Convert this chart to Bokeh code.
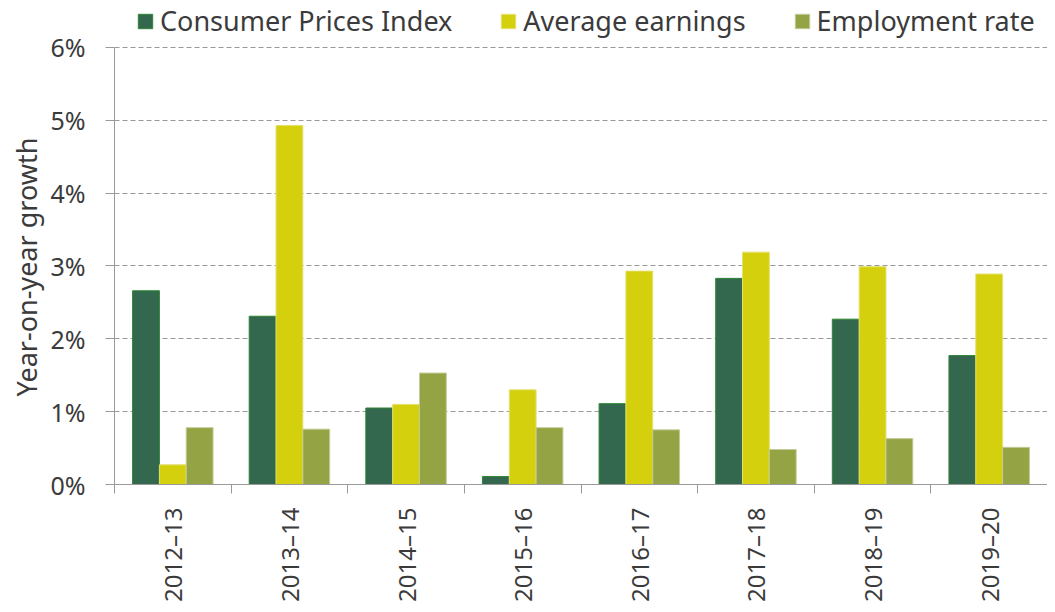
import numpy as np
from bokeh.plotting import figure
from bokeh.models import (ColumnDataSource, Range1d, FixedTicker, PrintfTickFormatter,
                          Legend, LegendItem, Title)
from bokeh.transform import dodge
from bokeh.embed import file_html
from bokeh.resources import INLINE

categories = ["2012–13", "2013–14", "2014–15", "2015–16", "2016–17", "2017–18", "2018–19", "2019–20"]
cpi = [2.66, 2.31, 1.05, 0.11, 1.11, 2.83, 2.27, 1.77]
earnings = [0.27, 4.93, 1.10, 1.30, 2.93, 3.19, 2.99, 2.89]
employment = [0.78, 0.76, 1.53, 0.78, 0.75, 0.48, 0.63, 0.51]
series_names = ["Consumer Prices Index", "Average earnings", "Employment rate"]
y_ticks = [0, 1, 2, 3, 4, 5, 6]
y_title = "Year-on-year growth"

FONT = "Noto Sans"
TEXT = "#3b3b3b"
AXIS = "#9a9a9a"

n = len(categories)
centers = np.arange(n) + 0.5
source = ColumnDataSource(dict(x=centers, cpi=cpi, earnings=earnings, employment=employment))

p = figure(width=1047, height=604, x_range=Range1d(0, n), y_range=Range1d(0, 6.645),
           output_backend="svg", toolbar_location=None,
           min_border_left=114, min_border_right=0, min_border_top=0, min_border_bottom=120)
p.outline_line_color = None
p.background_fill_color = "white"
p.border_fill_color = "white"

bw = 0.23
r1 = p.vbar(x=dodge("x", -bw), top="cpi", width=bw, source=source,
            fill_color="#33684f", line_color="#2e8633", line_width=1)
r2 = p.vbar(x=dodge("x", 0), top="earnings", width=bw, source=source,
            fill_color="#d4d00d", line_color="#e4e170", line_width=1)
r3 = p.vbar(x=dodge("x", bw), top="employment", width=bw, source=source,
            fill_color="#94a444", line_color="#c3cb98", line_width=1)

# x axis
xa = p.xaxis[0]
xa.ticker = FixedTicker(ticks=list(centers), minor_ticks=list(range(n + 1)))
xa.major_label_overrides = {float(c): lab for c, lab in zip(centers, categories)}
xa.major_label_orientation = np.pi / 2
xa.major_tick_out = 0
xa.major_tick_in = 0
xa.minor_tick_out = 9
xa.minor_tick_in = 0
xa.minor_tick_line_color = AXIS
xa.axis_line_color = AXIS
xa.major_label_standoff = 14
xa.major_label_text_font = FONT
xa.major_label_text_font_size = "24px"
xa.major_label_text_color = TEXT

# y axis
ya = p.yaxis[0]
ya.ticker = FixedTicker(ticks=y_ticks)
ya.formatter = PrintfTickFormatter(format="%d%%")
ya.bounds = (0, 6)
ya.major_tick_out = 9
ya.major_tick_in = 0
ya.minor_tick_out = 0
ya.minor_tick_in = 0
ya.major_tick_line_color = AXIS
ya.axis_line_color = AXIS
ya.major_label_standoff = 20
ya.major_label_text_font = FONT
ya.major_label_text_font_size = "25px"
ya.major_label_text_color = TEXT

# y-axis title, placed along the 0-6% span
yt = Title(text=y_title, align="left", offset=88, standoff=6,
           text_font=FONT, text_font_size="27px", text_font_style="normal",
           text_color=TEXT)
p.add_layout(yt, "left")

p.xgrid.visible = False
p.ygrid.grid_line_color = AXIS
p.ygrid.grid_line_dash = "5 3"
p.ygrid.grid_line_width = 1

legend = Legend(items=[LegendItem(label=series_names[0], renderers=[r1]),
                       LegendItem(label=series_names[1], renderers=[r2]),
                       LegendItem(label=series_names[2], renderers=[r3])],
                orientation="horizontal", location=(22, 445),
                margin=0, padding=0, spacing=47,
                glyph_width=18, glyph_height=18, label_standoff=6,
                label_text_font=FONT, label_text_font_size="27px",
                label_text_color=TEXT,
                border_line_color=None, background_fill_alpha=0)
p.add_layout(legend, "center")

open("out.html", "w").write(file_html(p, INLINE))
